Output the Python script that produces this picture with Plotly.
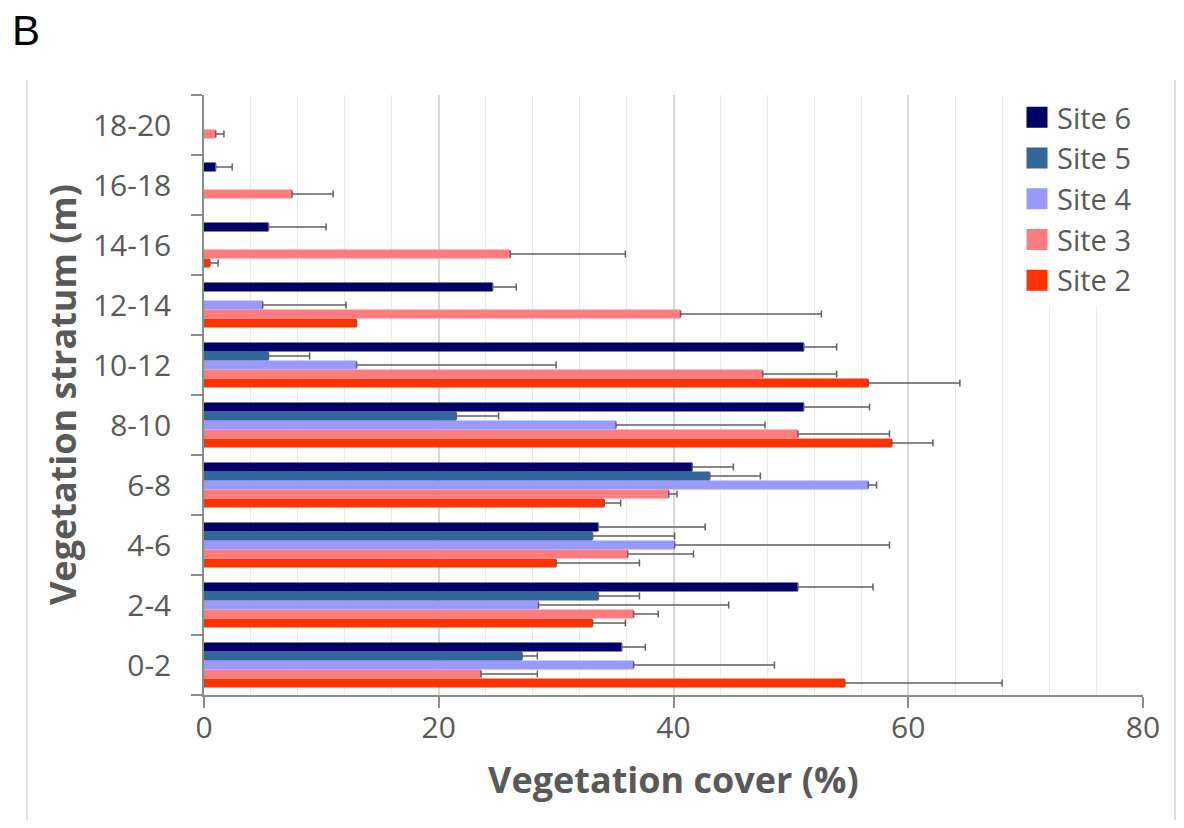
import plotly.graph_objects as go

# ---- data ----
strata = ["0-2", "2-4", "4-6", "6-8", "8-10", "10-12", "12-14", "14-16", "16-18", "18-20"]

site2 = [54.6, 33.1, 30.0, 34.1, 58.6, 56.6, 13.0, 0.5, None, None]
site2_err = [13.4, 2.8, 7.1, 1.4, 3.5, 7.8, 0.0, 0.7, None, None]

site3 = [23.6, 36.6, 36.1, 39.6, 50.6, 47.6, 40.6, 26.1, 7.5, 1.0]
site3_err = [4.8, 2.1, 5.6, 0.7, 7.8, 6.3, 12.0, 9.8, 3.5, 0.7]

site4 = [36.6, 28.5, 40.1, 56.6, 35.1, 13.0, 5.0, None, None, None]
site4_err = [12.0, 16.2, 18.3, 0.7, 12.7, 17.0, 7.1, None, None, None]

site5 = [27.1, 33.6, 33.1, 43.1, 21.5, 5.5, None, None, None, None]
site5_err = [1.3, 3.5, 7.0, 4.3, 3.6, 3.5, None, None, None, None]

site6 = [35.6, 50.6, 33.6, 41.6, 51.1, 51.1, 24.6, 5.5, 1.0, None]
site6_err = [2.0, 6.4, 9.1, 3.5, 5.6, 2.8, 2.0, 4.9, 1.4, None]

site_names = ["Site 2", "Site 3", "Site 4", "Site 5", "Site 6"]
site_values = [site2, site3, site4, site5, site6]
site_errors = [site2_err, site3_err, site4_err, site5_err, site6_err]
site_colors = ["#ff3300", "#ff7c80", "#9999ff", "#336699", "#000066"]

x_ticks = [0, 20, 40, 60, 80]

TEXT = "#595959"
FONT = "Open Sans"

fig = go.Figure()

for name, vals, errs, col in zip(site_names, site_values, site_errors, site_colors):
    fig.add_trace(go.Bar(
        name=name, y=strata, x=vals, orientation="h",
        marker=dict(color=col, line=dict(width=0)),
        error_x=dict(type="data", array=errs,
                     arrayminus=[0 if e is not None else None for e in errs],
                     symmetric=False, color="#606060", thickness=1.5, width=3.5),
        showlegend=False,
    ))

# legend entries (larger square swatches), Site 6 on top
for name, col in reversed(list(zip(site_names, site_colors))):
    fig.add_trace(go.Scatter(
        x=[None], y=[None], mode="markers", name=name,
        marker=dict(symbol="square", size=16, color=col, line=dict(color=col, width=5)),
    ))

# the page body has an 8px margin: figure is sized so it fits the window and the plot lands
# where the reference has it
fig.update_layout(
    width=1168, height=812,
    margin=dict(l=196, r=33, t=87, b=125),
    paper_bgcolor="white", plot_bgcolor="white",
    barmode="group", bargap=0.25, bargroupgap=0,
    font=dict(family=FONT, size=30, color=TEXT),
    legend=dict(x=1 - 6 / 939, xanchor="right", y=1 + 3 / 600, yanchor="top",
                bgcolor="white", font=dict(size=29, color=TEXT),
                traceorder="normal", tracegroupgap=0),
    xaxis=dict(
        range=[0, 80], tickvals=x_ticks, ticktext=[str(v) for v in x_ticks],
        showgrid=True, gridcolor="#d9d9d9", gridwidth=1.5,
        minor=dict(dtick=4, tick0=0, showgrid=True, gridcolor="#ececec", gridwidth=1),
        showline=True, linecolor="#8c8c8c", linewidth=1.5,
        ticks="outside", ticklen=11, tickcolor="#8c8c8c", tickwidth=1.5,
        ticklabelstandoff=-6,
        tickfont=dict(size=30, color=TEXT, family=FONT),
        zeroline=False,
    ),
    yaxis=dict(
        type="category", categoryorder="array", categoryarray=strata,
        range=[-0.5, 9.5],
        showline=True, linecolor="#8c8c8c", linewidth=1.5,
        ticks="outside", tickson="boundaries", ticklen=11, tickcolor="#8c8c8c", tickwidth=1.5,
        ticklabelstandoff=25,
        tickfont=dict(size=30, color=TEXT, family=FONT),
        showgrid=False, zeroline=False,
    ),
    annotations=[
        dict(text="<b>Vegetation cover (%)</b>", xref="paper", yref="paper",
             x=0.5, y=-0.14, xanchor="center", yanchor="middle", showarrow=False,
             font=dict(size=36, color=TEXT, family=FONT)),
        dict(text="<b>Vegetation stratum (m)</b>", xref="paper", yref="paper",
             x=-0.1512, y=0.5, xanchor="center", yanchor="middle", textangle=-90,
             showarrow=False, font=dict(size=36, color=TEXT, family=FONT)),
        dict(text="B", xref="paper", yref="paper",
             x=(26 - 204) / 939, y=(695 - 31) / 600, xanchor="center", yanchor="middle",
             showarrow=False, font=dict(size=42, color="black", family="Liberation Sans")),
    ],
    shapes=[
        dict(type="line", xref="paper", yref="paper",
             x0=(27 - 204) / 939, x1=(27 - 204) / 939, y0=(695 - 80) / 600, y1=(695 - 840) / 600,
             line=dict(color="#d9d9d9", width=1.5)),
        dict(type="line", xref="paper", yref="paper",
             x0=(1175 - 204) / 939, x1=(1175 - 204) / 939, y0=(695 - 80) / 600, y1=(695 - 840) / 600,
             line=dict(color="#d0d0d0", width=1.5)),
    ],
)

fig.write_html("out.html")
